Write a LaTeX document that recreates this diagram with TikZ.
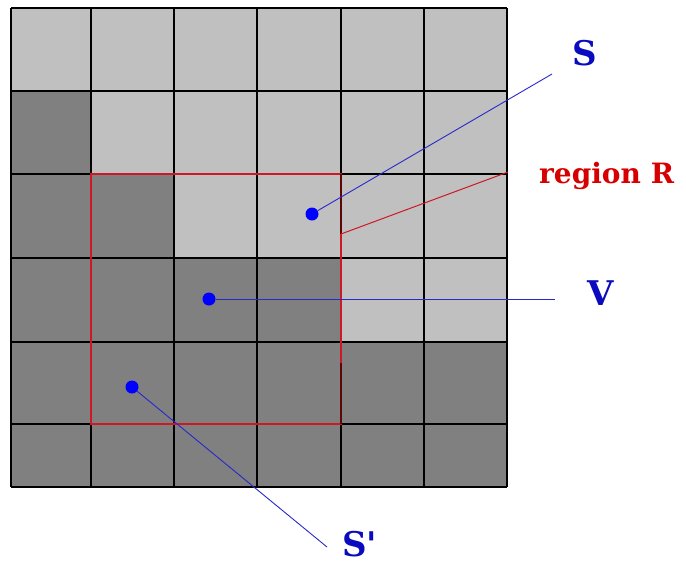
\documentclass[tikz,border=0pt]{standalone}
\usepackage{fontspec}
\setmainfont{DejaVu Serif}
\usepackage{tikz}
\usetikzlibrary{positioning}
\definecolor{celllight}{RGB}{192, 192, 192}
\definecolor{celldark}{RGB}{128, 128, 128}
\definecolor{regionred}{RGB}{205, 25, 35}
\definecolor{markred}{RGB}{95, 5, 5}
\definecolor{leadblue}{RGB}{40, 40, 205}
\definecolor{textblue}{RGB}{10, 10, 190}
\definecolor{textred}{RGB}{215, 0, 0}

\begin{document}
\begin{tikzpicture}[x=1pt, y=-1pt,
  gridline/.style={black, line width=1.6pt},
  regionline/.style={regionred, line width=2.2pt},
  dot/.style={circle, fill=blue, inner sep=0pt, minimum size=13pt},
  leader/.style={leadblue, line width=0.9pt},
  lblblue/.style={textblue, font=\fontsize{34}{40}\selectfont\bfseries, inner sep=0pt, anchor=base west},
  lblred/.style={textred, font=\fontsize{28}{34}\selectfont\bfseries, inner sep=0pt, anchor=base west}]
  % page size of the reference
  \useasboundingbox (0,0) rectangle (686,563);

  % cells: light everywhere, dark from the left up to \xd in each row
  \foreach \ya/\yb/\xd in {8/91/11, 91/174/91, 174/258/174, 258/342/341, 342/424/507, 424/487/507} {
    \fill[celllight] (11,\ya) rectangle (507,\yb);
    \fill[celldark] (11,\ya) rectangle (\xd,\yb);
  }

  % grid lines
  \foreach \x in {11, 91, 174, 257, 341, 424, 507}
    \draw[gridline] (\x,8) -- (\x,487);
  \foreach \y in {8, 91, 174, 258, 342, 424, 487}
    \draw[gridline] (11,\y) -- (507,\y);

  % region R
  \draw[regionline] (91,174) rectangle (341,424);
  \draw[markred, line width=1.4pt] (341,174) -- (341,234);
  \draw[markred, line width=1.4pt] (341,363) -- (341,424);
  \coordinate (Rtip) at (341,234);
  \coordinate (Rend) at (508,172);
  \draw[regionred, line width=1pt] (Rtip) -- (Rend);
  \node[lblred] (labR) at (539,183) {region R};

  % points and their leaders
  \node[dot] (dotS) at (312,214) {};
  \node[dot] (dotV) at (209,299) {};
  \node[dot] (dotSp) at (132,387) {};

  \coordinate (endS) at (552,74);
  \coordinate (endV) at (555,299);
  \coordinate (endSp) at (327,547);
  \draw[leader] (dotS) -- (endS);
  \draw[leader] (dotV) -- (endV);
  \draw[leader] (dotSp) -- (endSp);

  \node[lblblue] (labS) at (572,65) {S};
  \node[lblblue] (labV) at (587,305) {V};
  \node[lblblue] (labSp) at (342,556) {S\textquotesingle};
\end{tikzpicture}
\end{document}
